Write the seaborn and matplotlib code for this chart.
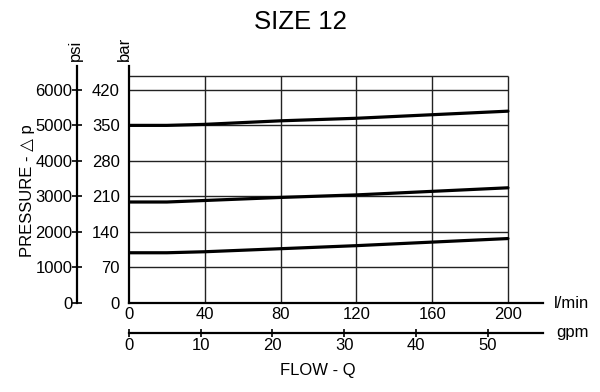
import matplotlib
matplotlib.use("Agg")
import matplotlib.pyplot as plt
import pandas as pd
import seaborn as sns

# curve data (flow in l/min, pressure drop in bar)
flow_lpm = [0, 20, 40, 80, 120, 160, 200]
dp_high = [350, 350, 352, 359, 364, 371, 378]
dp_mid = [199, 199, 202, 208, 213, 220, 227]
dp_low = [99, 99, 101, 107, 113, 120, 127]

lpm_ticks = [0, 40, 80, 120, 160, 200]
bar_ticks = [0, 70, 140, 210, 280, 350, 420]
psi_ticks = [0, 1000, 2000, 3000, 4000, 5000, 6000]
gpm_ticks = [0, 10, 20, 30, 40, 50]

LPM_PER_GPM = 3.785
PSI_PER_BAR = 1000 / 70  # the chart lines psi up with bar this way

df = pd.DataFrame({"flow": flow_lpm * 3,
                   "dp": dp_high + dp_mid + dp_low,
                   "curve": ["high"] * 7 + ["mid"] * 7 + ["low"] * 7})

sns.set_style("white")
plt.rcParams["font.family"] = ["Liberation Sans", "DejaVu Sans"]
plt.rcParams.update({"text.color": "black", "xtick.color": "black",
                     "ytick.color": "black", "axes.labelcolor": "black"})

fig = plt.figure(figsize=(6, 3.92), dpi=100)
ax = fig.add_axes([129 / 600, 1 - 303 / 392, 414 / 600, 237 / 392])

# grid box, only up to 200 l/min / 448 bar
ax.vlines(lpm_ticks[1:], 0, 448, color="#222222", lw=1.0, zorder=1)
ax.hlines(bar_ticks[1:], 0, 200, color="#222222", lw=1.0, zorder=1)
ax.hlines(448, 0, 200, color="#222222", lw=1.0, zorder=1)

sns.lineplot(data=df, x="flow", y="dp", units="curve", estimator=None,
             color="black", lw=2.3, ax=ax, zorder=3)

ax.set_xlim(0, 218.5)
ax.set_ylim(0, 467)
for s in ["top", "right"]:
    ax.spines[s].set_visible(False)
for s in ["left", "bottom"]:
    ax.spines[s].set_linewidth(1.6)
    ax.spines[s].set_color("black")

ax.set_xticks(lpm_ticks)
ax.set_yticks(bar_ticks)
ax.tick_params(axis="y", direction="out", length=3.5, width=1.5, pad=3, labelsize=12)
ax.tick_params(axis="x", direction="out", length=2, width=1.2, pad=1, labelsize=12)
ax.set_xlabel("")
ax.set_ylabel("")

# psi scale on the far left
psi_ax = ax.secondary_yaxis(-52 / 414, functions=(lambda b: b * PSI_PER_BAR,
                                                  lambda p: p / PSI_PER_BAR))
psi_ax.set_yticks(psi_ticks)
psi_ax.spines["left"].set_linewidth(1.6)
psi_ax.spines["left"].set_color("black")
psi_ax.tick_params(direction="inout", length=6.5, width=1.2, pad=0, labelsize=12)

# gpm scale below
gpm_ax = ax.secondary_xaxis(-30 / 237, functions=(lambda q: q / LPM_PER_GPM,
                                                  lambda g: g * LPM_PER_GPM))
gpm_ax.set_xticks(gpm_ticks)
gpm_ax.spines["bottom"].set_linewidth(1.6)
gpm_ax.spines["bottom"].set_color("black")
gpm_ax.tick_params(direction="inout", length=5.5, width=1.2, pad=1, labelsize=12)

fig.text(300 / 600, 1 - 22 / 392, "SIZE 12", ha="center", va="center", fontsize=18.5)
fig.text(75 / 600, 1 - 61 / 392, "psi", rotation=90, ha="center", va="bottom", fontsize=12)
fig.text(124 / 600, 1 - 61 / 392, "bar", rotation=90, ha="center", va="bottom", fontsize=12)
fig.text(28 / 600, 1 - 191 / 392, "PRESSURE - \u25b3 p", rotation=90,
         ha="center", va="center", fontsize=12)
fig.text(554 / 600, 1 - 303 / 392, "l/min", ha="left", va="center", fontsize=12)
fig.text(556 / 600, 1 - 333 / 392, "gpm", ha="left", va="center", fontsize=12)
fig.text(318 / 600, 1 - 371 / 392, "FLOW - Q", ha="center", va="center", fontsize=12)

fig.savefig("out.png", dpi=100)
